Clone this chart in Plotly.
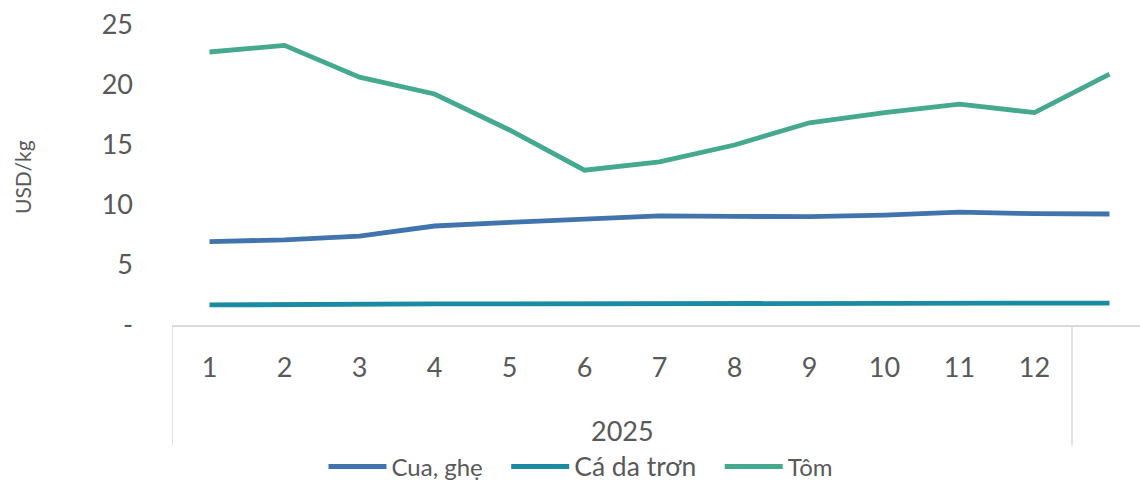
import plotly.graph_objects as go

months = [1, 2, 3, 4, 5, 6, 7, 8, 9, 10, 11, 12, 13]
tick_labels = ["1", "2", "3", "4", "5", "6", "7", "8", "9", "10", "11", "12", ""]
year_label = "2025"

cua_ghe = [6.95, 7.1, 7.4, 8.25, 8.55, 8.85, 9.1, 9.05, 9.03, 9.15, 9.4, 9.28, 9.25]
ca_da_tron = [1.67, 1.72, 1.76, 1.76, 1.76, 1.76, 1.8, 1.77, 1.77, 1.75, 1.74, 1.74, 1.83]
tom = [22.75, 23.3, 20.65, 19.25, 16.25, 12.9, 13.6, 15.0, 16.85, 17.7, 18.4, 17.7, 20.9]

y_tickvals = [0, 5, 10, 15, 20, 25]
y_ticktext = ["-", "5", "10", "15", "20", "25"]

FONT = "Lato"
GRAY = "#595959"
PAD = "\u00a0" * 3

fig = go.Figure()
fig.add_trace(go.Scatter(x=months, y=cua_ghe, mode="lines", name="Cua, ghẹ" + PAD,
                         line=dict(color="#4173ad", width=4.8)))
fig.add_trace(go.Scatter(x=months, y=ca_da_tron, mode="lines",
                         name='<span style="font-size:26.5px">Cá da trơn</span>' + PAD,
                         line=dict(color="#1b8aa3", width=4.8)))
fig.add_trace(go.Scatter(x=months, y=tom, mode="lines", name="Tôm",
                         line=dict(color="#44a98f", width=4.8)))

fig.update_layout(
    width=1140, height=481,
    margin=dict(l=172, r=0, t=25, b=156, autoexpand=False),
    plot_bgcolor="white", paper_bgcolor="white",
    font=dict(family=FONT, color=GRAY, size=24),
    showlegend=True,
    legend=dict(orientation="h", x=0.4225, xanchor="center", y=-0.473, yanchor="middle",
                font=dict(size=24, color=GRAY), itemwidth=58, tracegroupgap=0,
                bgcolor="rgba(0,0,0,0)"),
    xaxis=dict(range=[0.5, 0.5 + 968 / 75], tickvals=months, ticktext=tick_labels,
               showgrid=False, zeroline=False, showline=True, linecolor="#d9d9d9",
               linewidth=1.5, ticks="", ticklabelstandoff=18, automargin=False,
               tickfont=dict(size=27, color=GRAY)),
    yaxis=dict(range=[0, 25], tickvals=y_tickvals, ticktext=y_ticktext,
               showgrid=False, zeroline=False, showline=False, ticks="",
               ticklabelstandoff=38, automargin=False, ticklabeloverflow="allow",
               tickfont=dict(size=27, color=GRAY)),
)

fig.add_annotation(x=6.5, y=-0.35, xref="x", yref="paper", text=year_label,
                   showarrow=False, font=dict(size=27, color=GRAY), yanchor="middle")
fig.add_annotation(x=-0.155, y=0.493, xref="paper", yref="paper", text="USD/kg",
                   textangle=-90, showarrow=False, xanchor="center", yanchor="middle",
                   font=dict(size=21, color=GRAY))

for xv in [0.5, 12.5]:
    fig.add_shape(type="line", x0=xv, x1=xv, y0=0, y1=-0.4, xref="x", yref="paper",
                  line=dict(color="#d9d9d9", width=1.5))

fig.write_html("out.html", config={"displayModeBar": False},
               post_script="document.body.style.margin='0';document.body.style.overflow='hidden';")
